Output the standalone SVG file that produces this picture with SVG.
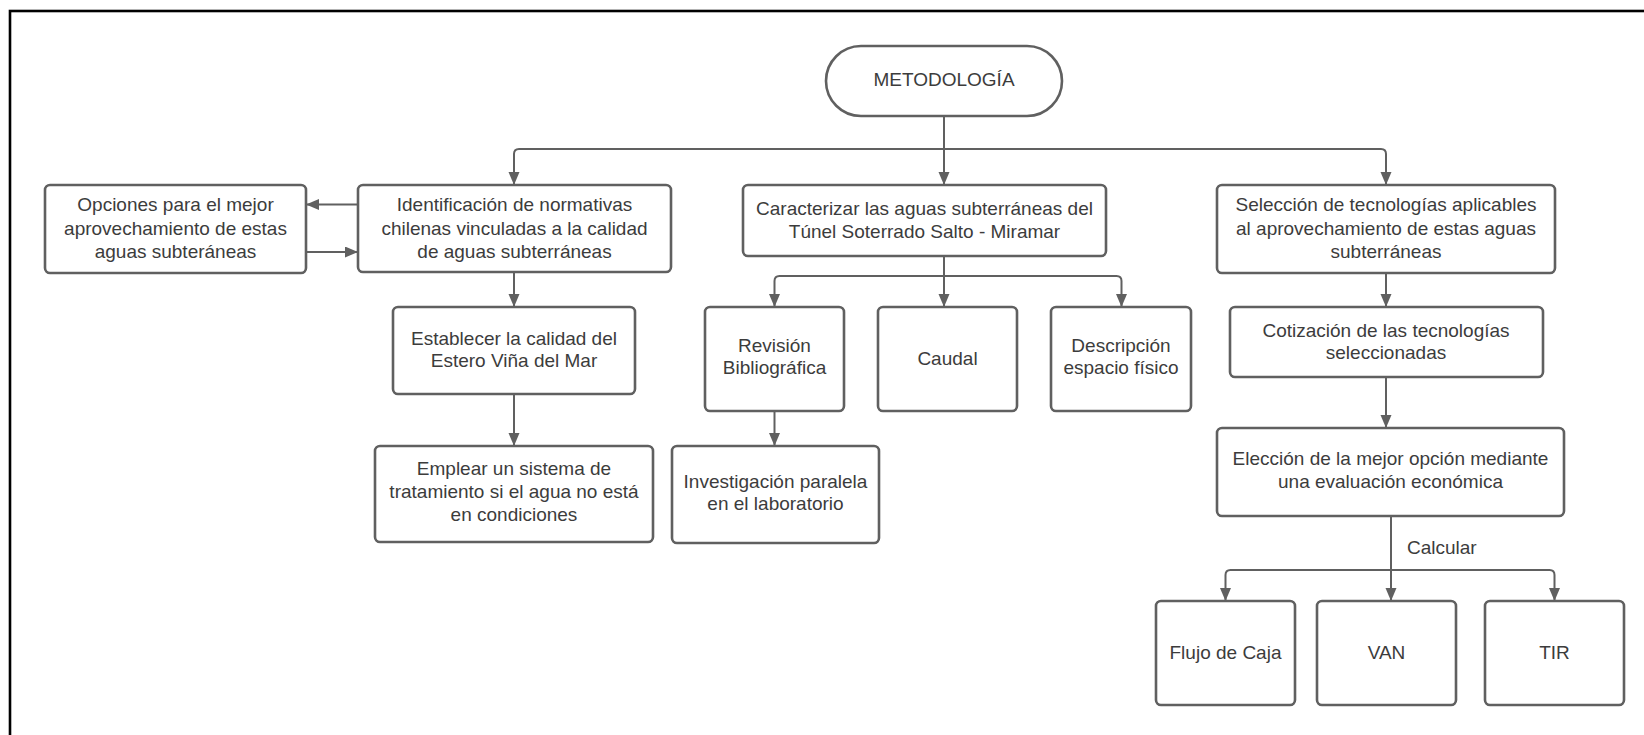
<svg xmlns="http://www.w3.org/2000/svg" width="1644" height="735" viewBox="0 0 1644 735">
<style>
.box{fill:#fff;stroke:#606060;stroke-width:2.6}
.t{font-family:"Liberation Sans",Arial,sans-serif;font-size:19px;fill:#3c3c3c;text-anchor:middle}
.c{fill:none;stroke:#606060;stroke-width:2}
</style>
<defs>
<marker id="ah" markerUnits="userSpaceOnUse" markerWidth="14" markerHeight="12" refX="13" refY="5.5" orient="auto">
<path d="M0,0 L13,5.5 L0,11 Z" fill="#606060"/>
</marker>
</defs>
<rect x="0" y="0" width="1644" height="735" fill="#fff"/>
<rect x="10" y="11" width="1700" height="800" fill="none" stroke="#000" stroke-width="2.6"/>

<g id="connectors">
<path class="c" d="M944,116 V185" marker-end="url(#ah)"/>
<path class="c" d="M944,149 H519 Q514,149 514,154 V185" marker-end="url(#ah)"/>
<path class="c" d="M944,149 H1381 Q1386,149 1386,154 V185" marker-end="url(#ah)"/>
<path class="c" d="M358,204.5 H306" marker-end="url(#ah)"/>
<path class="c" d="M306,252 H358" marker-end="url(#ah)"/>
<path class="c" d="M514,272 V307" marker-end="url(#ah)"/>
<path class="c" d="M514,394 V446" marker-end="url(#ah)"/>
<path class="c" d="M944,256 V307" marker-end="url(#ah)"/>
<path class="c" d="M944,276 H779.5 Q774.5,276 774.5,281 V307" marker-end="url(#ah)"/>
<path class="c" d="M944,276 H1116.5 Q1121.5,276 1121.5,281 V307" marker-end="url(#ah)"/>
<path class="c" d="M774.5,411 V446" marker-end="url(#ah)"/>
<path class="c" d="M1386,273 V307" marker-end="url(#ah)"/>
<path class="c" d="M1386,377 V428" marker-end="url(#ah)"/>
<path class="c" d="M1391,516 V601" marker-end="url(#ah)"/>
<path class="c" d="M1391,570 H1230.5 Q1225.5,570 1225.5,575 V601" marker-end="url(#ah)"/>
<path class="c" d="M1391,570 H1549.5 Q1554.5,570 1554.5,575 V601" marker-end="url(#ah)"/>
<text class="t" x="1407" y="554" style="text-anchor:start">Calcular</text>
</g>

<g id="metodologia">
<rect class="box" x="826" y="46" width="236" height="70" rx="35"/>
<text class="t" x="944" y="86">METODOLOGÍA</text>
</g>

<g id="opciones">
<rect class="box" x="45" y="185" width="261" height="88" rx="5"/>
<text class="t" x="175.5" y="211">Opciones para el mejor</text>
<text class="t" x="175.5" y="234.5">aprovechamiento de estas</text>
<text class="t" x="175.5" y="258">aguas subteráneas</text>
</g>

<g id="identificacion">
<rect class="box" x="358" y="185" width="313" height="87" rx="5"/>
<text class="t" x="514.5" y="211">Identificación de normativas</text>
<text class="t" x="514.5" y="234.5">chilenas vinculadas a la calidad</text>
<text class="t" x="514.5" y="258">de aguas subterráneas</text>
</g>

<g id="caracterizar">
<rect class="box" x="743" y="185" width="363" height="71" rx="5"/>
<text class="t" x="924.5" y="215">Caracterizar las aguas subterráneas del</text>
<text class="t" x="924.5" y="238">Túnel Soterrado Salto - Miramar</text>
</g>

<g id="seleccion">
<rect class="box" x="1217" y="185" width="338" height="88" rx="5"/>
<text class="t" x="1386" y="211">Selección de tecnologías aplicables</text>
<text class="t" x="1386" y="234.5">al aprovechamiento de estas aguas</text>
<text class="t" x="1386" y="258">subterráneas</text>
</g>

<g id="establecer">
<rect class="box" x="393" y="307" width="242" height="87" rx="5"/>
<text class="t" x="514" y="345">Establecer la calidad del</text>
<text class="t" x="514" y="367">Estero Viña del Mar</text>
</g>

<g id="emplear">
<rect class="box" x="375" y="446" width="278" height="96" rx="5"/>
<text class="t" x="514" y="475">Emplear un sistema de</text>
<text class="t" x="514" y="498">tratamiento si el agua no está</text>
<text class="t" x="514" y="520.5">en condiciones</text>
</g>

<g id="revision">
<rect class="box" x="705" y="307" width="139" height="104" rx="5"/>
<text class="t" x="774.5" y="351.5">Revisión</text>
<text class="t" x="774.5" y="374">Bibliográfica</text>
</g>

<g id="caudal">
<rect class="box" x="878" y="307" width="139" height="104" rx="5"/>
<text class="t" x="947.5" y="365">Caudal</text>
</g>

<g id="descripcion">
<rect class="box" x="1051" y="307" width="140" height="104" rx="5"/>
<text class="t" x="1121" y="351.5">Descripción</text>
<text class="t" x="1121" y="374">espacio físico</text>
</g>

<g id="investigacion">
<rect class="box" x="672" y="446" width="207" height="97" rx="5"/>
<text class="t" x="775.5" y="488">Investigación paralela</text>
<text class="t" x="775.5" y="510">en el laboratorio</text>
</g>

<g id="cotizacion">
<rect class="box" x="1230" y="307" width="313" height="70" rx="5"/>
<text class="t" x="1386" y="336.5">Cotización de las tecnologías</text>
<text class="t" x="1386" y="359">seleccionadas</text>
</g>

<g id="eleccion">
<rect class="box" x="1217" y="428" width="347" height="88" rx="5"/>
<text class="t" x="1390.5" y="465">Elección de la mejor opción mediante</text>
<text class="t" x="1390.5" y="487.5">una evaluación económica</text>
</g>

<g id="flujo">
<rect class="box" x="1156" y="601" width="139" height="104" rx="5"/>
<text class="t" x="1225.5" y="659">Flujo de Caja</text>
</g>

<g id="van">
<rect class="box" x="1317" y="601" width="139" height="104" rx="5"/>
<text class="t" x="1386.5" y="659">VAN</text>
</g>

<g id="tir">
<rect class="box" x="1485" y="601" width="139" height="104" rx="5"/>
<text class="t" x="1554.5" y="659">TIR</text>
</g>
</svg>
